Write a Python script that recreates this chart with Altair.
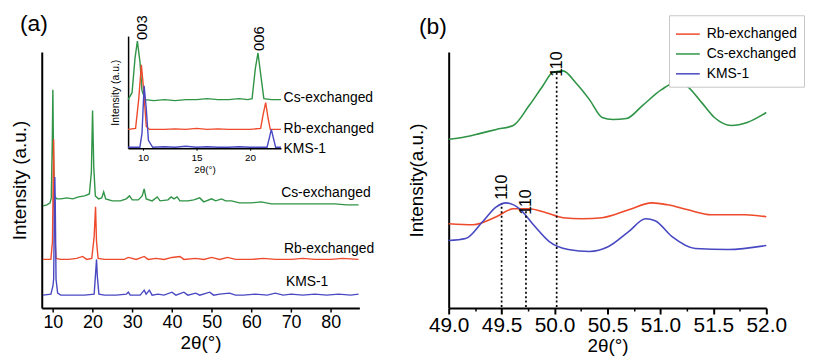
import altair as alt
import pandas as pd

FONT = "Liberation Sans"

SERIES = ["Rb-exchanged", "Cs-exchanged", "KMS-1"]
COLORS = ["#ee4a2c", "#2f9446", "#4848c2"]

# ---------------- panel (a): full patterns ----------------
CS_A_X = [7.5, 8.5, 9.3, 9.6, 9.85, 10.0, 10.15, 10.4, 11, 12,
          13.5, 15, 16.5, 18, 19.2, 19.7, 20.0, 20.3, 20.7, 21.5,
          22.3, 22.8, 23.3, 25, 27, 28.5, 29.3, 30, 31.5, 32.5,
          33, 33.5, 35, 36.3, 37, 39, 39.8, 40.5, 41.3, 42,
          44, 45.5, 47, 48, 50, 51, 52.5, 53.5, 55, 57,
          60, 62.5, 65, 68, 72, 75, 78, 81, 84, 87]
CS_A_Y = [104, 105, 107, 112, 168, 221, 158, 114, 111, 111,
          112, 111, 113, 114, 116, 138, 200, 143, 114, 111,
          112, 118, 111, 109, 109, 111, 114, 110, 110, 114,
          121, 111, 109, 113, 109, 110, 113, 111, 113, 109,
          109, 110, 112, 108, 111, 109, 111, 109, 109, 107,
          107, 108, 106, 106, 106, 106, 106, 106, 105, 105]

RB_A_X = [7.5, 9.5, 9.9, 10.2, 10.45, 10.8, 12, 14, 16, 17.5,
          18.5, 19.8, 20.4, 20.75, 21.0, 21.4, 23, 25, 28, 29,
          31, 33, 34, 36, 38, 40, 42, 43, 46, 48,
          50, 52, 54, 56, 60, 63, 66, 70, 73, 76,
          80, 83, 87]
RB_A_Y = [50, 50, 68, 171, 78, 51, 50, 50, 51, 53,
          50, 51, 73, 103, 68, 51, 50, 50, 50, 52,
          50, 53, 50, 51, 50, 52, 53, 50, 51, 50,
          52, 50, 52, 50, 50, 51, 50, 50, 51, 50,
          50, 51, 50]

KMS_A_X = [7.5, 9.5, 10.0, 10.2, 10.4, 10.5, 10.6, 10.8, 11.2, 12,
           15, 18, 20.4, 20.8, 21.0, 21.2, 21.6, 23, 26, 28.5,
           29, 29.5, 32, 33, 33.5, 34.3, 35, 36.5, 38, 40,
           41, 43, 44, 46, 47, 49.5, 50.5, 52, 54.5, 56,
           58, 61, 64, 66, 68, 70, 73, 76, 79, 82,
           85, 87]
KMS_A_Y = [14, 15, 23, 30, 108, 133, 108, 30, 16, 14,
           14, 14, 15, 38, 50, 33, 15, 14, 14, 15,
           17, 14, 14, 19, 15, 19, 14, 15, 14, 17,
           14, 17, 14, 16, 14, 17, 14, 15, 16, 14,
           14, 15, 14, 16, 14, 15, 14, 15, 14, 15,
           14, 15]

A_LABEL_TEXT = ["Cs-exchanged", "Rb-exchanged", "KMS-1"]
A_LABEL_X = [67.5, 68.2, 68.7]
A_LABEL_Y = [117, 60, 27]
A_TICKS = [10, 20, 30, 40, 50, 60, 70, 80]

# ---------------- inset of panel (a) ----------------
CS_I_X = [8.6, 8.97, 9.25, 9.47, 9.72, 9.9, 10.2, 11, 12, 13,
          14, 15, 16, 17, 18, 19, 19.8, 20.2, 20.5, 20.75,
          21.0, 21.3, 22, 22.9]
CS_I_Y = [49, 56, 91, 108, 86, 58, 49, 48, 49, 48,
          49, 49, 50, 49, 49, 50, 49, 50, 80, 96,
          75, 50, 49, 49]
RB_I_X = [8.6, 9.3, 9.6, 9.84, 10.05, 10.3, 10.6, 12, 13, 14,
          15, 16, 17, 18, 19, 20, 21.0, 21.25, 21.47, 21.7,
          21.9, 22.9]
RB_I_Y = [19, 20, 50, 84, 60, 22, 19, 19, 19.5, 19,
          20, 19, 19.5, 19, 19, 19, 20, 35, 46, 30,
          19, 19]
KMS_I_X = [8.6, 9.7, 9.9, 10.1, 10.3, 10.5, 10.9, 12, 13, 14,
           15, 16, 17, 18, 19, 20, 21.6, 21.85, 22.0, 22.2,
           22.4, 22.9]
KMS_I_Y = [1, 1, 15, 63, 40, 8, 1, 1.5, 1, 2,
           1, 1.5, 1, 1, 1.5, 1, 1, 12, 19, 10,
           1, 1]
I_LABEL_TEXT = ["Cs-exchanged", "Rb-exchanged", "KMS-1"]
I_LABEL_X = [23.15, 23.15, 23.15]
I_LABEL_Y = [51, 19, -1]
I_PEAK_TEXT = ["003", "006"]
I_PEAK_X = [9.9, 20.84]
I_PEAK_Y = [109, 98]
I_TICKS = [10, 15, 20]

# ---------------- panel (b): zoom 49-52 ----------------
RB_B_X = [49.0, 49.23, 49.45, 49.61, 49.76, 49.92, 50.08, 50.26, 50.45, 50.7,
          50.92, 51.07, 51.26, 51.48, 51.8, 52.0]
RB_B_Y = [84, 83, 91, 99, 99, 95, 90, 89, 90, 98,
          105, 103, 98, 93, 93, 91]
CS_B_X = [49.0, 49.14, 49.3, 49.45, 49.61, 49.76, 49.89, 49.98, 50.08, 50.2,
          50.33, 50.45, 50.55, 50.68, 50.83, 51.01, 51.14, 51.23, 51.39, 51.51,
          51.67, 51.82, 52.0]
CS_B_Y = [169, 171, 175, 179, 183, 203, 223, 236, 238, 226,
          209, 191, 189, 190, 203, 219, 226, 224, 206, 191,
          183, 186, 196]
KMS_B_X = [49.0, 49.16, 49.32, 49.45, 49.54, 49.67, 49.8, 49.95, 50.13, 50.33,
           50.51, 50.7, 50.86, 50.95, 51.11, 51.33, 51.64, 52.0]
KMS_B_Y = [67, 69, 86, 101, 105, 99, 83, 66, 58, 56,
           61, 76, 89, 87, 71, 59, 58, 62]
B_PEAK_X = [49.5, 49.73, 50.02]
B_PEAK_TOP = [104, 99, 238]
B_PEAK_LABEL_Y = [108, 93, 232]
B_PEAK_TEXT = ["110", "110", "110"]
B_MAJOR = [49.0, 49.5, 50.0, 50.5, 51.0, 51.5, 52.0]
B_MINOR = [49.25, 49.75, 50.25, 50.75, 51.25, 51.75]


def lines_table(parts):
    rows = []
    for name, xs, ys in parts:
        for i, (xv, yv) in enumerate(zip(xs, ys)):
            rows.append({"series": name, "x": xv, "y": yv, "i": i})
    return pd.DataFrame(rows)


def label_table(texts, xs, ys):
    return pd.DataFrame({"label": texts, "x": xs, "y": ys})


df_a = lines_table([("Cs-exchanged", CS_A_X, CS_A_Y),
                    ("Rb-exchanged", RB_A_X, RB_A_Y),
                    ("KMS-1", KMS_A_X, KMS_A_Y)])
df_i = lines_table([("Cs-exchanged", CS_I_X, CS_I_Y),
                    ("Rb-exchanged", RB_I_X, RB_I_Y),
                    ("KMS-1", KMS_I_X, KMS_I_Y)])
df_b = lines_table([("Cs-exchanged", CS_B_X, CS_B_Y),
                    ("Rb-exchanged", RB_B_X, RB_B_Y),
                    ("KMS-1", KMS_B_X, KMS_B_Y)])
df_a_lab = label_table(A_LABEL_TEXT, A_LABEL_X, A_LABEL_Y)
df_i_lab = label_table(I_LABEL_TEXT, I_LABEL_X, I_LABEL_Y)
df_i_peak = label_table(I_PEAK_TEXT, I_PEAK_X, I_PEAK_Y)
df_b_peak = pd.DataFrame({"x": B_PEAK_X, "top": B_PEAK_TOP, "base": [0] * len(B_PEAK_X),
                          "ly": B_PEAK_LABEL_Y, "label": B_PEAK_TEXT})

col = alt.Scale(domain=SERIES, range=COLORS)
xa = alt.Scale(domain=[7.2, 87.2], nice=False, zero=False)
ya = alt.Scale(domain=[1, 259], nice=False, zero=False)
xi = alt.Scale(domain=[8.6, 22.9], range=[87, 241], nice=False, zero=False)
yi = alt.Scale(domain=[0, 113], range=[97, -16], nice=False, zero=False)
xb = alt.Scale(domain=[49, 52], nice=False, zero=False)
yb = alt.Scale(domain=[-1, 257], nice=False, zero=False)

# ---- panel (a) main
main_lines = alt.Chart(df_a).mark_line(strokeWidth=1.4).encode(
    x=alt.X("x:Q", scale=xa, axis=alt.Axis(
        orient="bottom", values=A_TICKS, title="2θ(°)", labelFontSize=18,
        titleFontSize=19, titleFontWeight="normal", tickSize=4, tickWidth=1.5,
        domainWidth=2, labelPadding=2, titlePadding=2, labelFlush=False)),
    y=alt.Y("y:Q", scale=ya, axis=alt.Axis(
        orient="left", labels=False, ticks=False, domainWidth=2,
        title="Intensity (a.u.)", titleFontSize=19, titleFontWeight="normal",
        titlePadding=12)),
    color=alt.Color("series:N", scale=col, legend=None),
    order="i:Q",
)
main_labels = alt.Chart(df_a_lab).mark_text(
    align="left", baseline="middle", fontSize=14, font=FONT, color="black"
).encode(
    x=alt.X("x:Q", scale=xa, axis=None),
    y=alt.Y("y:Q", scale=ya, axis=None),
    text="label:N",
)

# ---- inset
inset_lines = alt.Chart(df_i).mark_line(strokeWidth=1.4).encode(
    x=alt.X("x:Q", scale=xi, axis=alt.Axis(
        orient="bottom", offset=-161, values=I_TICKS, title="2θ(°)",
        labelFontSize=10, titleFontSize=10, titleFontWeight="normal",
        tickSize=2, domainWidth=1.5, labelPadding=2, titlePadding=2)),
    y=alt.Y("y:Q", scale=yi, axis=alt.Axis(
        orient="left", offset=-87, labels=False, ticks=False, domainWidth=1.5,
        title="Intensity (a.u.)", titleFontSize=10.5, titleFontWeight="normal",
        titlePadding=8)),
    color=alt.Color("series:N", scale=col, legend=None),
    order="i:Q",
)
inset_labels = alt.Chart(df_i_lab).mark_text(
    align="left", baseline="middle", fontSize=14, font=FONT, color="black"
).encode(
    x=alt.X("x:Q", scale=xi, axis=None),
    y=alt.Y("y:Q", scale=yi, axis=None),
    text="label:N",
)
inset_peaks = alt.Chart(df_i_peak).mark_text(
    align="left", baseline="middle", angle=270, fontSize=15, font=FONT, color="black"
).encode(
    x=alt.X("x:Q", scale=xi, axis=None),
    y=alt.Y("y:Q", scale=yi, axis=None),
    text="label:N",
)

main_group = alt.layer(main_lines, main_labels).resolve_axis(x="independent", y="independent")
inset_group = alt.layer(inset_lines, inset_labels, inset_peaks).resolve_axis(
    x="independent", y="independent")

panel_a = alt.layer(main_group, inset_group).resolve_scale(
    x="independent", y="independent"
).resolve_axis(x="independent", y="independent").properties(
    width=320, height=258,
    title=alt.TitleParams("(a)", anchor="start", frame="group", fontSize=23,
                          fontWeight="normal", font=FONT, color="black",
                          offset=0, dx=-22, dy=21),
)

# ---- panel (b)
b_lines = alt.Chart(df_b).mark_line(strokeWidth=1.6, interpolate="monotone").encode(
    x=alt.X("x:Q", scale=xb, axis=alt.Axis(
        orient="bottom", values=B_MAJOR, format=".1f", title="2θ(°)",
        labelFontSize=21, titleFontSize=19, titleFontWeight="normal",
        tickSize=6, tickWidth=2, domainWidth=2, labelPadding=1, titlePadding=1,
        labelFlush=False)),
    y=alt.Y("y:Q", scale=yb, axis=alt.Axis(
        orient="left", labels=False, ticks=False, domainWidth=2,
        title="Intensity(a.u.)", titleFontSize=19, titleFontWeight="normal",
        titlePadding=22)),
    color=alt.Color("series:N", scale=col, legend=alt.Legend(
        orient="none", legendX=222, legendY=-37, title=None,
        symbolType="stroke", symbolSize=576, symbolStrokeWidth=1.5,
        labelFontSize=14, labelFont=FONT, labelColor="black", labelLimit=200,
        strokeColor="#c8c8c8", fillColor="white", padding=6,
        rowPadding=-5, labelOffset=6)),
    order="i:Q",
)
b_rules = alt.Chart(df_b_peak).mark_rule(
    strokeDash=[2, 2.5], strokeWidth=1.7, color="black"
).encode(
    x=alt.X("x:Q", scale=xb, axis=alt.Axis(
        orient="bottom", values=B_MINOR, labels=False, domain=False,
        tickSize=3, tickWidth=1.5, title=None)),
    y=alt.Y("base:Q", scale=yb, axis=None),
    y2="top:Q",
)
b_text = alt.Chart(df_b_peak).mark_text(
    align="left", baseline="middle", angle=270, fontSize=16, font=FONT, color="black"
).encode(
    x=alt.X("x:Q", scale=xb, axis=None),
    y=alt.Y("ly:Q", scale=yb, axis=None),
    text="label:N",
)
panel_b = alt.layer(b_lines, b_rules, b_text).resolve_axis(
    x="independent", y="independent"
).properties(
    width=320, height=258,
    title=alt.TitleParams("(b)", anchor="start", frame="group", fontSize=23,
                          fontWeight="normal", font=FONT, color="black",
                          offset=0, dx=-30, dy=24),
)

chart = alt.hconcat(panel_a, panel_b, spacing=33).resolve_scale(
    color="independent"
).properties(
    padding={"left": 3, "top": 3, "right": 0, "bottom": 0},
    background="white",
).configure_view(stroke=None).configure_axis(
    grid=False, labelFont=FONT, titleFont=FONT, labelColor="black",
    titleColor="black", domainColor="black", tickColor="black",
).configure_legend(labelFontSize=14, labelFont=FONT)

chart.save("out.html", embed_options={"renderer": "svg", "actions": False})
